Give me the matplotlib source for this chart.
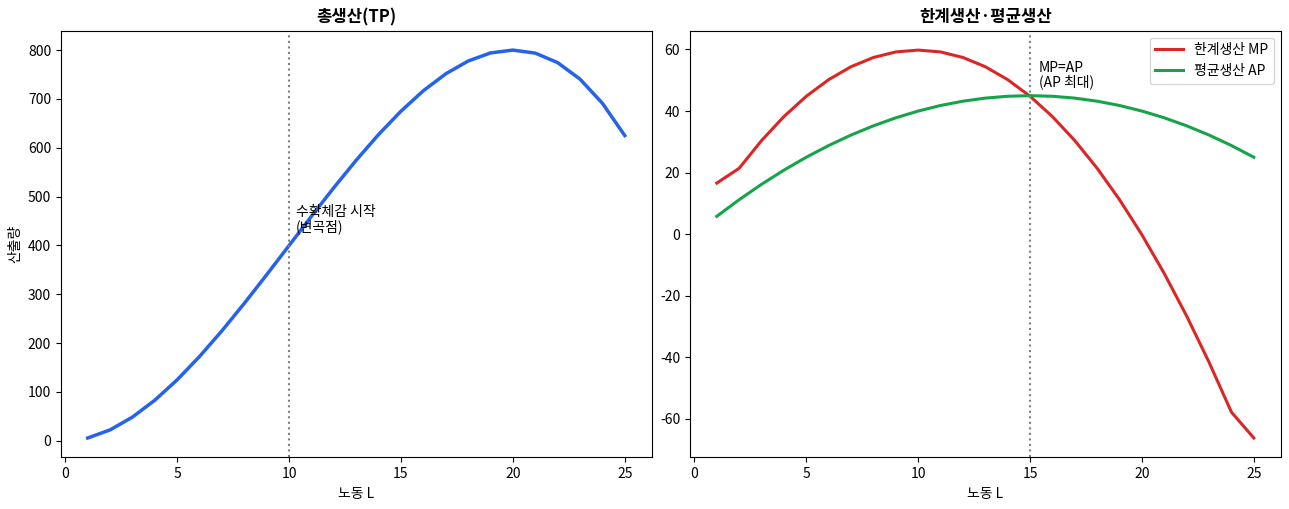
import matplotlib.pyplot as plt

plt.rcParams['font.family'] = ['Noto Sans CJK KR', 'DejaVu Sans']
plt.rcParams['axes.unicode_minus'] = False

labor = list(range(1, 26))
tp = [5.8, 22.4, 48.6, 83.2, 125, 172.8, 225.4, 281.6, 340.2, 400, 459.8, 518.4, 574.6,
      627.2, 675, 716.8, 751.4, 777.6, 794.2, 800, 793.8, 774.4, 740.6, 691.2, 625]
mp = [16.6, 21.4, 30.4, 38.2, 44.8, 50.2, 54.4, 57.4, 59.2, 59.8, 59.2, 57.4, 54.4,
      50.2, 44.8, 38.2, 30.4, 21.4, 11.2, -0.2, -12.8, -26.6, -41.6, -57.8, -66.2]
ap = [5.8, 11.2, 16.2, 20.8, 25, 28.8, 32.2, 35.2, 37.8, 40, 41.8, 43.2, 44.2,
      44.8, 45, 44.8, 44.2, 43.2, 41.8, 40, 37.8, 35.2, 32.2, 28.8, 25]

fig, (ax1, ax2) = plt.subplots(1, 2, figsize=(12.89, 5.09), dpi=100)

# total product
ax1.plot(labor, tp, color='#2563eb', linewidth=2.5)
ax1.axvline(10, color='gray', linestyle=':', linewidth=1.5)
ax1.text(10.3, 430, '수확체감 시작\n(변곡점)', fontsize=10, linespacing=1.0)
ax1.set_title('총생산(TP)', fontweight='bold')
ax1.set_xlabel('노동 L')
ax1.set_ylabel('산출량')

# marginal and average product
ax2.plot(labor, mp, color='#dc2626', linewidth=2.2, label='한계생산 MP')
ax2.plot(labor, ap, color='#16a34a', linewidth=2.2, label='평균생산 AP')
ax2.axvline(15, color='gray', linestyle=':', linewidth=1.5)
ax2.text(15.4, 48, 'MP=AP\n(AP 최대)', fontsize=10, linespacing=1.0)
ax2.set_title('한계생산·평균생산', fontweight='bold')
ax2.set_xlabel('노동 L')
ax2.legend(loc='upper right')

plt.tight_layout(pad=0.6)
plt.savefig('out.png')
